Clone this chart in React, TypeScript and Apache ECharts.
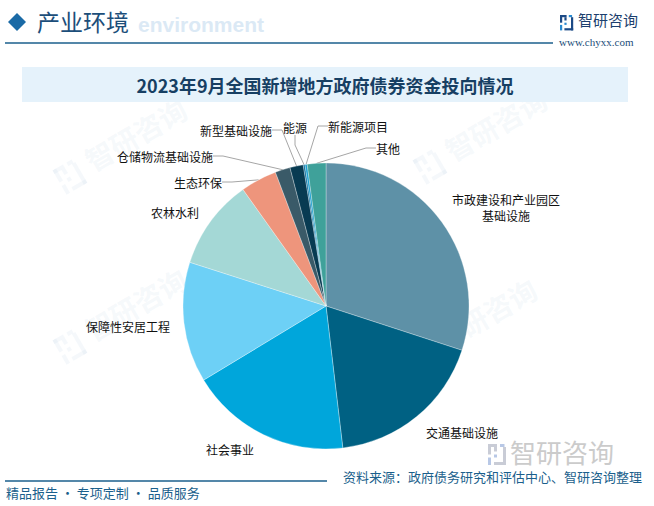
import React, { useEffect, useRef } from "react";
import * as echarts from "echarts";

const categories = [
  "市政建设和产业园区\n基础设施",
  "交通基础设施",
  "社会事业",
  "保障性安居工程",
  "农林水利",
  "生态环保",
  "仓储物流基础设施",
  "新型基础设施",
  "能源",
  "新能源项目",
  "其他",
];
const values = [30.0, 18.1, 18.2, 13.6, 10.2, 4.1, 1.7, 1.5, 0.2, 0.25, 2.1];
const colors = [
  "#5e91a7",
  "#006183",
  "#00a6db",
  "#6dd0f6",
  "#a4d8d6",
  "#ee957c",
  "#3a5a68",
  "#083b52",
  "#0b6d9c",
  "#1aa0d0",
  "#3fa19a",
];
const title = "2023年9月全国新增地方政府债券资金投向情况";
const sourceText = "资料来源：政府债务研究和评估中心、智研咨询整理";
const sloganText = "精品报告 · 专项定制 · 品质服务";

// label anchor positions (style)
const labelPos: [number, number][] = [
  [506, 207],
  [462, 432],
  [230, 449],
  [128, 326],
  [175, 212],
  [198, 182],
  [165, 156],
  [236, 130],
  [295, 127],
  [358, 126],
  [388, 148],
];

const FONT = "'Noto Sans CJK SC', 'Noto Sans', sans-serif";
const NAVY = "#1b5f8c";

export default function App() {
  const ref = useRef<HTMLDivElement>(null);
  useEffect(() => {
    document.body.style.margin = "0";
    const chart = echarts.init(ref.current!, null, { renderer: "svg" });

    const logo = (x: number, y: number, s: number, c1: string, c2: string) => ({
      type: "group",
      x,
      y,
      children: [
        { type: "rect", shape: { x: 0, y: 0, width: 6 * s, height: 2 * s }, style: { fill: c1 } },
        { type: "rect", shape: { x: 0, y: 0, width: 2 * s, height: 7 * s }, style: { fill: c1 } },
        { type: "rect", shape: { x: 4 * s, y: 2 * s, width: 2 * s, height: 3 * s }, style: { fill: c1 } },
        { type: "rect", shape: { x: 0, y: 9 * s, width: 2 * s, height: 5 * s }, style: { fill: c2 } },
        { type: "rect", shape: { x: 4 * s, y: 7 * s, width: 2 * s, height: 2 * s }, style: { fill: c2 } },
        { type: "rect", shape: { x: 8 * s, y: 0, width: 3 * s, height: 2 * s }, style: { fill: c2 } },
        { type: "rect", shape: { x: 10 * s, y: 2 * s, width: 2 * s, height: 12 * s }, style: { fill: c1 } },
        { type: "rect", shape: { x: 4 * s, y: 12 * s, width: 8 * s, height: 2 * s }, style: { fill: c1 } },
      ],
    });

    const watermark = (x: number, y: number) => ({
      type: "group",
      x,
      y,
      rotation: Math.PI / 6,
      silent: true,
      children: [
        logo(-34, 4, 2, "rgba(190,210,228,0.16)", "rgba(190,210,228,0.16)"),
        {
          type: "text",
          x: 0,
          y: 0,
          style: { text: "智研咨询", font: `bold 28px ${FONT}`, fill: "rgba(190,210,228,0.14)" },
        },
      ],
    });

    const option: any = {
      animation: false,
      backgroundColor: "#ffffff",
      graphic: [
        watermark(80, 150),
        watermark(80, 320),
        watermark(440, 140),
        watermark(430, 330),
        // header
        {
          type: "text",
          left: 138,
          top: 14,
          style: { text: "environment", font: `bold 21px Arial, sans-serif`, fill: "#dbe9f5" },
        },
        {
          type: "polygon",
          shape: { points: [[17, 13], [26, 22], [17, 31], [8, 22]] },
          style: { fill: "#1a6aa6" },
        },
        {
          type: "text",
          left: 37,
          top: 9,
          style: { text: "产业环境", font: `23px ${FONT}`, fill: "#1c4e7a" },
        },
        {
          type: "line",
          shape: { x1: 5, y1: 43, x2: 553, y2: 43 },
          style: { stroke: NAVY, lineWidth: 1.5 },
        },
        logo(560, 15, 1.1, "#1c4a86", "#2a8ad0"),
        {
          type: "text",
          left: 578,
          top: 12,
          style: { text: "智研咨询", font: `15px ${FONT}`, fill: "#1c3f6e" },
        },
        {
          type: "text",
          left: 559,
          top: 36,
          style: { text: "www.chyxx.com", font: `11px 'Liberation Serif', serif`, fill: "#1c4e7a" },
        },
        // title bar
        {
          type: "rect",
          shape: { x: 22, y: 67, width: 606, height: 35 },
          style: { fill: "#e5f2fb" },
        },
        {
          type: "text",
          x: 325,
          y: 85,
          style: {
            text: title,
            font: `bold 18px ${FONT}`,
            fill: "#173f63",
            align: "center",
            verticalAlign: "middle",
          },
        },
        // footer
        logo(488, 444, 1.5, "#c9ccd6", "#b8c8e6"),
        {
          type: "text",
          left: 510,
          top: 438,
          style: { text: "智研咨询", font: `26px ${FONT}`, fill: "#cbcbcb" },
        },
        {
          type: "line",
          shape: { x1: 5, y1: 481, x2: 327, y2: 481 },
          style: { stroke: NAVY, lineWidth: 1.5 },
        },
        {
          type: "text",
          left: 6,
          top: 486,
          style: { text: sloganText, font: `13px ${FONT}`, fill: NAVY },
        },
        {
          type: "text",
          left: 343,
          top: 470,
          style: { text: sourceText, font: `13px ${FONT}`, fill: NAVY },
        },
      ],
      series: [
        {
          type: "pie",
          center: [326, 306],
          radius: 143,
          startAngle: 90,
          clockwise: true,
          avoidLabelOverlap: false,
          itemStyle: { borderColor: "rgba(255,255,255,0.6)", borderWidth: 0.5 },
          label: {
            show: true,
            position: "outside",
            color: "#111",
            fontSize: 12,
            fontFamily: FONT,
            lineHeight: 16,
            align: "center",
          },
          labelLine: {
            show: true,
            length: 10,
            length2: 10,
            lineStyle: { color: "#a6a6a6", width: 1 },
          },
          labelLayout: (p: any) => {
            const pos = labelPos[p.dataIndex];
            return {
              x: pos[0],
              y: pos[1],
              align: "center",
              verticalAlign: "middle",
              hideOverlap: false,
            };
          },
          data: categories.map((name, i) => ({
            name,
            value: values[i],
            itemStyle: { color: colors[i] },
            labelLine: { show: i >= 5 },
          })),
        },
      ],
    };
    chart.setOption(option);
    return () => chart.dispose();
  }, []);
  return (
    <div
      ref={ref}
      style={{ width: 654, height: 506, position: "fixed", left: 0, top: 0 }}
    />
  );
}
